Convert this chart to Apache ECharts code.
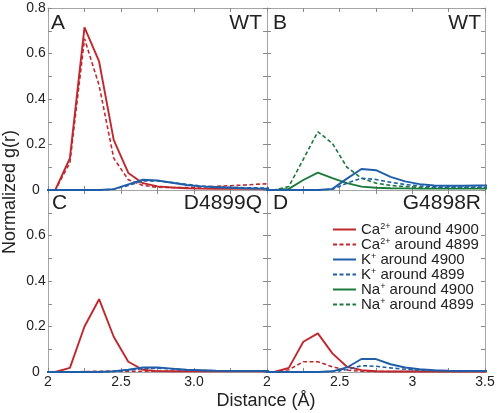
<!DOCTYPE html>
<html><head><meta charset="utf-8">
<script src="https://cdn.jsdelivr.net/npm/echarts@6/dist/echarts.min.js"></script>
<style>html,body{margin:0;padding:0;background:#fff}#c{width:498px;height:413px}</style>
</head><body><div id="c"></div>
<script>
// Distance bin centres (Å)
const distance = [1.95, 2.05, 2.15, 2.25, 2.35, 2.45, 2.55, 2.65, 2.75, 2.85, 2.95, 3.05, 3.15, 3.25, 3.35, 3.45, 3.55];

// Panel A (WT)
const caA4900 = [0, 0, 0.14, 0.715, 0.565, 0.22, 0.075, 0.03, 0.016, 0.011, 0.008, 0.006, 0.005, 0.005, 0.005, 0.005, 0.005];
const caA4899 = [0, 0, 0.12, 0.665, 0.46, 0.14, 0.045, 0.02, 0.012, 0.011, 0.011, 0.013, 0.016, 0.019, 0.022, 0.026, 0.028];
const kA4900  = [0, 0, 0, 0, 0, 0.004, 0.025, 0.045, 0.042, 0.032, 0.022, 0.016, 0.012, 0.01, 0.008, 0.006, 0.006];
const kA4899  = [0, 0, 0, 0, 0, 0.003, 0.02, 0.04, 0.04, 0.033, 0.025, 0.018, 0.014, 0.012, 0.01, 0.009, 0.009];

// Panel B (WT)
const kB4900  = [0, 0, 0, 0, 0, 0.005, 0.05, 0.092, 0.087, 0.058, 0.038, 0.026, 0.02, 0.019, 0.019, 0.02, 0.02];
const kB4899  = [0, 0, 0, 0, 0, 0.003, 0.03, 0.052, 0.046, 0.034, 0.024, 0.018, 0.014, 0.013, 0.013, 0.013, 0.013];
const naB4900 = [0, 0, 0.005, 0.044, 0.076, 0.052, 0.03, 0.015, 0.01, 0.008, 0.007, 0.006, 0.006, 0.006, 0.006, 0.006, 0.006];
const naB4899 = [0, 0, 0.015, 0.135, 0.256, 0.205, 0.1, 0.052, 0.03, 0.02, 0.015, 0.012, 0.01, 0.01, 0.01, 0.01, 0.01];

// Panel C (D4899Q)
const caC4900 = [0, 0, 0.018, 0.2, 0.32, 0.155, 0.045, 0.01, 0.004, 0.003, 0.003, 0.003, 0.003, 0.003, 0.003, 0.003, 0.003];
const caC4899 = [0, 0, 0, 0.002, 0.003, 0.003, 0.003, 0.003, 0.003, 0.003, 0.003, 0.003, 0.003, 0.003, 0.003, 0.003, 0.003];
const kC4900  = [0, 0, 0, 0, 0, 0.003, 0.01, 0.02, 0.02, 0.015, 0.01, 0.008, 0.006, 0.005, 0.005, 0.005, 0.005];
const kC4899  = [0, 0, 0, 0, 0, 0.002, 0.008, 0.015, 0.017, 0.013, 0.009, 0.007, 0.005, 0.004, 0.004, 0.004, 0.004];

// Panel D (G4898R)
const caD4900 = [0, 0, 0.018, 0.133, 0.17, 0.082, 0.023, 0.008, 0.003, 0.002, 0.002, 0.002, 0.002, 0.002, 0.002, 0.002, 0.002];
const caD4899 = [0, 0, 0.01, 0.045, 0.045, 0.023, 0.008, 0.003, 0.002, 0.002, 0.002, 0.002, 0.002, 0.002, 0.002, 0.002, 0.002];
const kD4900  = [0, 0, 0, 0, 0, 0.003, 0.02, 0.057, 0.057, 0.034, 0.02, 0.012, 0.008, 0.006, 0.005, 0.005, 0.005];
const kD4899  = [0, 0, 0, 0, 0, 0.002, 0.01, 0.028, 0.025, 0.018, 0.012, 0.008, 0.006, 0.005, 0.004, 0.004, 0.004];

const seriesNames = ['Ca2+ around 4900', 'Ca2+ around 4899', 'K+ around 4900', 'K+ around 4899', 'Na+ around 4900', 'Na+ around 4899'];
const panelLetters = ['A', 'B', 'C', 'D'];
const panelTitles = ['WT', 'WT', 'D4899Q', 'G4898R'];
const xLabelsC = {2: '2', 2.5: '2.5', 3: '3.0'};
const xLabelsD = {2: '2', 2.5: '2.5', 3: '3', 3.5: '3.5'};

const RED = '#c0282f', BLUE = '#1f5fa8', GREEN = '#1c7a3c';
const FONT = '"Liberation Sans", Arial, sans-serif';
const frame = '#a6a6a6';

const grids = [
  {left: 48, top: 8, width: 219, height: 182},
  {left: 267, top: 8, width: 218, height: 182},
  {left: 48, top: 190, width: 219, height: 182},
  {left: 267, top: 190, width: 218, height: 182}
];

const xAxes = [], yAxes = [];
grids.forEach((g, i) => {
  const base = {
    gridIndex: i, type: 'value', min: 2, max: 3.5, interval: 0.25,
    axisLine: {show: true, onZero: false, lineStyle: {color: frame, width: 1}},
    axisTick: {show: true, inside: true, length: 4, lineStyle: {color: '#8a8a8a'}},
    splitLine: {show: false}
  };
  xAxes.push(Object.assign({}, base, {
    position: 'bottom',
    axisLabel: {
      show: i >= 2, margin: 3, fontSize: 14, color: '#222', fontFamily: FONT,
      formatter: v => { const m = i === 2 ? xLabelsC : xLabelsD; return m[v] !== undefined ? m[v] : ''; }
    }
  }));
  xAxes.push(Object.assign({}, base, {position: 'top', axisLabel: {show: false}}));
  const ybase = {
    gridIndex: i, type: 'value', min: 0, max: 0.8, interval: 0.1,
    axisLine: {show: true, onZero: false, lineStyle: {color: frame, width: 1}},
    axisTick: {show: true, inside: true, length: 4, lineStyle: {color: '#8a8a8a'}},
    splitLine: {show: false}
  };
  yAxes.push(Object.assign({}, ybase, {
    position: 'left',
    axisLabel: {
      show: i === 0 || i === 2, margin: 12, align: 'center', fontSize: 14, color: '#222', fontFamily: FONT,
      formatter: v => {
        const k = Math.round(v * 10);
        if (k % 2 !== 0) return '';
        if (i === 2 && k === 8) return '';
        return k === 0 ? '0' : (k / 10).toFixed(1);
      }
    }
  }));
  yAxes.push(Object.assign({}, ybase, {position: 'right', axisLabel: {show: false}}));
});

function line(name, panel, values, color, dashed) {
  return {
    name, type: 'line', xAxisIndex: panel * 2, yAxisIndex: panel * 2,
    data: distance.map((d, k) => [d, values[k]]),
    symbol: 'none', clip: true, animation: false,
    lineStyle: {color, width: dashed ? 1.6 : 1.9, type: dashed ? [4, 2.5] : 'solid'},
    itemStyle: {color}
  };
}

const series = [
  line(seriesNames[0], 0, caA4900, RED, false),
  line(seriesNames[1], 0, caA4899, RED, true),
  line(seriesNames[2], 0, kA4900, BLUE, false),
  line(seriesNames[3], 0, kA4899, BLUE, true),
  line(seriesNames[4], 1, naB4900, GREEN, false),
  line(seriesNames[5], 1, naB4899, GREEN, true),
  line(seriesNames[2], 1, kB4900, BLUE, false),
  line(seriesNames[3], 1, kB4899, BLUE, true),
  line(seriesNames[0], 2, caC4900, RED, false),
  line(seriesNames[1], 2, caC4899, RED, true),
  line(seriesNames[2], 2, kC4900, BLUE, false),
  line(seriesNames[3], 2, kC4899, BLUE, true),
  line(seriesNames[0], 3, caD4900, RED, false),
  line(seriesNames[1], 3, caD4899, RED, true),
  line(seriesNames[2], 3, kD4900, BLUE, false),
  line(seriesNames[3], 3, kD4899, BLUE, true)
];

const letterPos = [[51, 23], [273, 23], [52, 203], [273, 203]];
const titlePos = [[262, 23], [481, 23], [262, 203], [481, 203]];
const graphics = [];
panelLetters.forEach((t, i) => {
  graphics.push({type: 'text', x: letterPos[i][0], y: letterPos[i][1], silent: true,
    style: {text: t, fontSize: 21, fontFamily: FONT, fill: '#222', textAlign: 'left', textVerticalAlign: 'middle'}});
  graphics.push({type: 'text', x: titlePos[i][0], y: titlePos[i][1], silent: true,
    style: {text: panelTitles[i], fontSize: 21, fontFamily: FONT, fill: '#222', textAlign: 'right', textVerticalAlign: 'middle'}});
});
graphics.push({type: 'text', x: 10, y: 192, rotation: Math.PI / 2, silent: true,
  style: {text: 'Normalized g(r)', fontSize: 18, fontFamily: FONT, fill: '#222', textAlign: 'center', textVerticalAlign: 'middle'}});
graphics.push({type: 'text', x: 266, y: 401, silent: true,
  style: {text: 'Distance (Å)', fontSize: 18, fontFamily: FONT, fill: '#222', textAlign: 'center', textVerticalAlign: 'middle'}});

const chart = echarts.init(document.getElementById('c'), null, {renderer: 'canvas'});
chart.setOption({
  animation: false,
  backgroundColor: '#fff',
  grid: grids,
  xAxis: xAxes,
  yAxis: yAxes,
  legend: {
    data: seriesNames, orient: 'vertical', left: 332, top: 222, itemGap: 0,
    itemWidth: 23, itemHeight: 10, selectedMode: false, padding: 0,
    itemStyle: {opacity: 0},
    textStyle: {
      fontFamily: FONT, fontSize: 15, color: '#222', lineHeight: 15,
      rich: {
        n: {fontSize: 15, fontFamily: FONT, color: '#222', lineHeight: 15},
        s: {fontSize: 9, fontFamily: FONT, color: '#222', verticalAlign: 'top', lineHeight: 9}
      }
    },
    formatter: name => {
      const m = name.match(/^(Ca|K|Na)(2\+|\+)(.*)$/);
      return m ? '{n|' + m[1] + '}{s|' + m[2] + '}{n|' + m[3] + '}' : name;
    }
  },
  graphic: graphics,
  series
});
</script>
</body></html>
